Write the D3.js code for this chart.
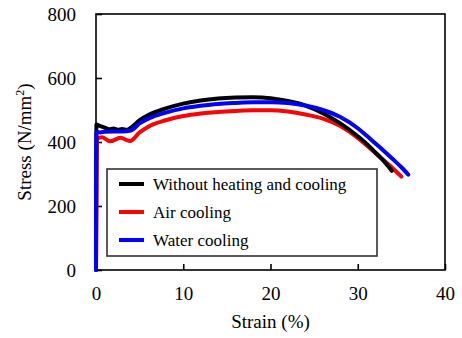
<!DOCTYPE html>
<html>
<head>
<meta charset="utf-8">
<script src="https://cdn.jsdelivr.net/npm/d3@7"></script>
<style>
  body { margin: 0; background: #fff; }
  text { font-family: "Liberation Serif", "Times New Roman", serif; }
</style>
</head>
<body>
<svg id="chart" width="462" height="338"></svg>
<script>
// Series (strain %, stress N/mm2)
const blackStrain = [0, 0.05, 0.3, 1, 1.5, 2, 2.5, 3, 3.5, 4, 5, 6, 8, 10, 12, 14, 16, 18, 20, 22, 24, 26, 28, 30, 31, 32, 33, 33.9];
const blackStress = [0, 455, 452, 445, 440, 442, 438, 441, 438, 445, 468, 484, 505, 520, 530, 536, 539, 540, 537, 528, 514, 490, 458, 418, 395, 368, 340, 310];

const redStrain = [0, 0.1, 0.7, 1.6, 2.8, 3.9, 5, 6, 8, 10, 12, 14, 16, 18, 20, 22, 24, 26, 28, 30, 31, 32, 33, 34, 35];
const redStress = [0, 410, 415, 402, 413, 403, 430, 448, 468, 481, 489, 494, 497, 499, 499, 495, 486, 473, 450, 413, 390, 366, 342, 318, 292];

const blueStrain = [0, 0.05, 0.5, 1, 2, 3, 4, 5, 6, 8, 10, 12, 14, 16, 18, 20, 22, 24, 26, 28, 30, 31, 32, 33, 34, 35, 35.8];
const blueStress = [0, 432, 430, 432, 433, 433, 436, 458, 473, 492, 505, 513, 519, 522, 524, 524, 522, 514, 500, 478, 443, 420, 396, 372, 347, 321, 298];

const seriesNames = ["Without heating and cooling", "Air cooling", "Water cooling"];
const seriesColors = ["#000000", "#ff0000", "#0000ff"];
const xTicks = [0, 10, 20, 30, 40];
const yTicks = [0, 200, 400, 600, 800];

const svg = d3.select("#chart");
const margin = { top: 14, right: 17, bottom: 68, left: 96 };
const width = +svg.attr("width") - margin.left - margin.right;
const height = +svg.attr("height") - margin.top - margin.bottom;

const x = d3.scaleLinear().domain([0, 40]).range([0, width]);
const y = d3.scaleLinear().domain([0, 800]).range([height, 0]);

const g = svg.append("g").attr("transform", `translate(${margin.left},${margin.top})`);

// Plot frame
g.append("rect")
    .attr("width", width).attr("height", height)
    .attr("fill", "none").attr("stroke", "#000").attr("stroke-width", 1.6);

// X-axis, ticks pointing inward
const xAxis = g.append("g")
    .attr("transform", `translate(0,${height})`)
    .call(d3.axisBottom(x).tickValues(xTicks).tickSizeInner(-6).tickSizeOuter(0).tickPadding(17));
xAxis.select(".domain").remove();
xAxis.selectAll(".tick line").attr("stroke", "#000").attr("stroke-width", 1.6);
xAxis.selectAll("text").attr("fill", "#000").style("font-size", "19px");

// Y-axis
const yAxis = g.append("g")
    .call(d3.axisLeft(y).tickValues(yTicks).tickSizeInner(-6).tickSizeOuter(0).tickPadding(20));
yAxis.select(".domain").remove();
yAxis.selectAll(".tick line").attr("stroke", "#000").attr("stroke-width", 1.6);
yAxis.selectAll("text").attr("fill", "#000").style("font-size", "19px");

// Axis titles
svg.append("text")
    .attr("x", margin.left + width / 2).attr("y", 328)
    .attr("text-anchor", "middle").style("font-size", "19px")
    .text("Strain (%)");

const yTitle = svg.append("text")
    .attr("transform", `translate(31,${margin.top + height / 2}) rotate(-90)`)
    .attr("text-anchor", "middle").style("font-size", "19px");
yTitle.append("tspan").text("Stress (N/mm");
yTitle.append("tspan").attr("baseline-shift", "super").style("font-size", "12px").text("2");
yTitle.append("tspan").text(")");

// Curves
const line = d3.line().x(d => x(d[0])).y(d => y(d[1])).curve(d3.curveMonotoneX);
const series = [
    d3.zip(blackStrain, blackStress),
    d3.zip(redStrain, redStress),
    d3.zip(blueStrain, blueStress)
];
[1, 0, 2].forEach(i => {
    g.append("path")
        .datum(series[i])
        .attr("fill", "none")
        .attr("stroke", seriesColors[i])
        .attr("stroke-width", 4)
        .attr("stroke-linejoin", "round")
        .attr("stroke-linecap", "round")
        .attr("d", line);
});

// Legend
const legend = svg.append("g").attr("transform", "translate(107,169)");
legend.append("rect")
    .attr("width", 270).attr("height", 87)
    .attr("fill", "#fff").attr("stroke", "#333").attr("stroke-width", 1.6);
seriesNames.forEach((name, i) => {
    const row = legend.append("g").attr("transform", `translate(0,${15 + i * 28})`);
    row.append("line")
        .attr("x1", 12).attr("x2", 37)
        .attr("stroke", seriesColors[i]).attr("stroke-width", 4);
    row.append("text")
        .attr("x", 46).attr("y", 6)
        .style("font-size", "17px")
        .text(name);
});
</script>
</body>
</html>
